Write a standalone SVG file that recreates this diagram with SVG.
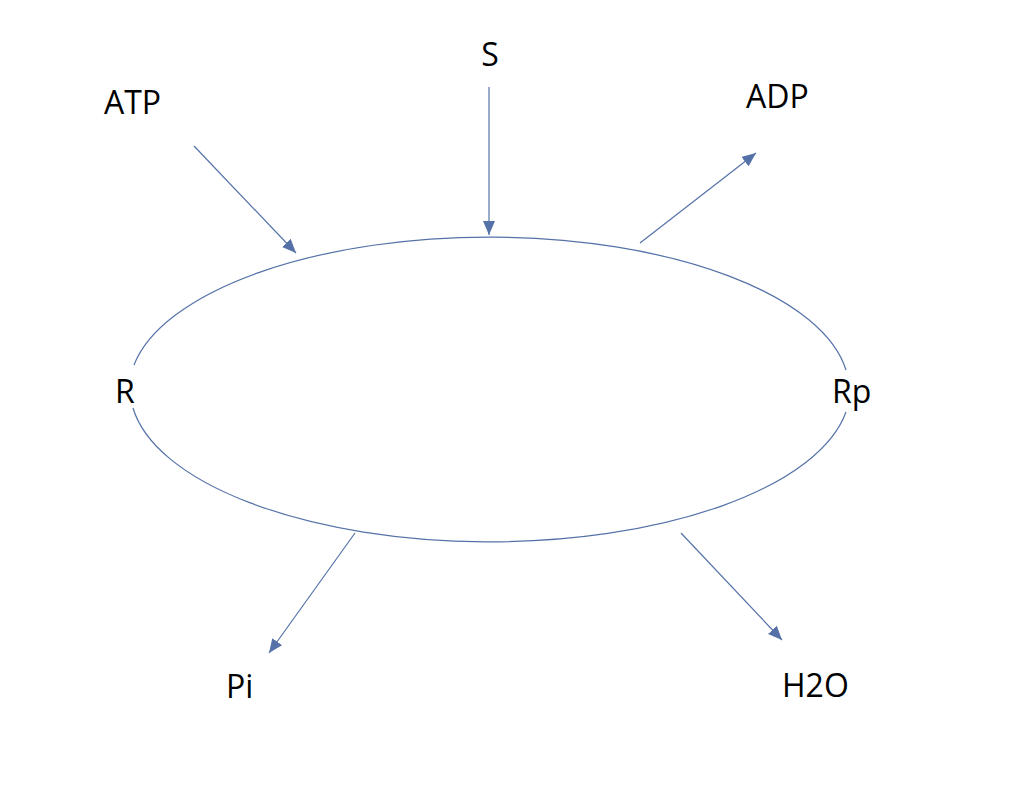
<svg xmlns="http://www.w3.org/2000/svg" width="1032" height="802" viewBox="0 0 1032 802">
  <style>
    .lbl { font-family: "Open Sans", "Liberation Sans", sans-serif; font-size: 32px; fill: #000000; }
    .ln { stroke: #5572A8; stroke-width: 1.2; fill: none; }
  </style>
  <defs>
    <marker id="arr" markerUnits="userSpaceOnUse" markerWidth="15" markerHeight="13" refX="14" refY="6" orient="auto" viewBox="0 0 15 13">
      <path d="M0,0 L14,6 L0,12 z" fill="#5572A8"/>
    </marker>
  </defs>
  <rect width="1032" height="802" fill="#ffffff"/>
  <g id="cycle">
    <path class="ln" d="M134,365 A360,153 0 0 1 846,370"/>
    <path class="ln" d="M846,412 A360,153 0 0 1 133,408"/>
  </g>
  <g id="connectors">
    <line class="ln" x1="489" y1="87" x2="489" y2="235" marker-end="url(#arr)"/>
    <line class="ln" x1="194" y1="146" x2="296" y2="253" marker-end="url(#arr)"/>
    <line class="ln" x1="640" y1="243" x2="756" y2="153" marker-end="url(#arr)"/>
    <line class="ln" x1="355" y1="533" x2="269" y2="653" marker-end="url(#arr)"/>
    <line class="ln" x1="681" y1="533" x2="782" y2="640" marker-end="url(#arr)"/>
  </g>
  <g id="node-S"><text class="lbl" x="490" y="66" text-anchor="middle">S</text></g>
  <g id="node-ATP"><text class="lbl" x="104" y="114">ATP</text></g>
  <g id="node-ADP"><text class="lbl" x="746" y="108">ADP</text></g>
  <g id="node-R"><text class="lbl" x="115" y="403">R</text></g>
  <g id="node-Rp"><text class="lbl" x="832" y="403">Rp</text></g>
  <g id="node-Pi"><text class="lbl" x="226" y="698">Pi</text></g>
  <g id="node-H2O"><text class="lbl" x="782" y="697">H2O</text></g>
</svg>
